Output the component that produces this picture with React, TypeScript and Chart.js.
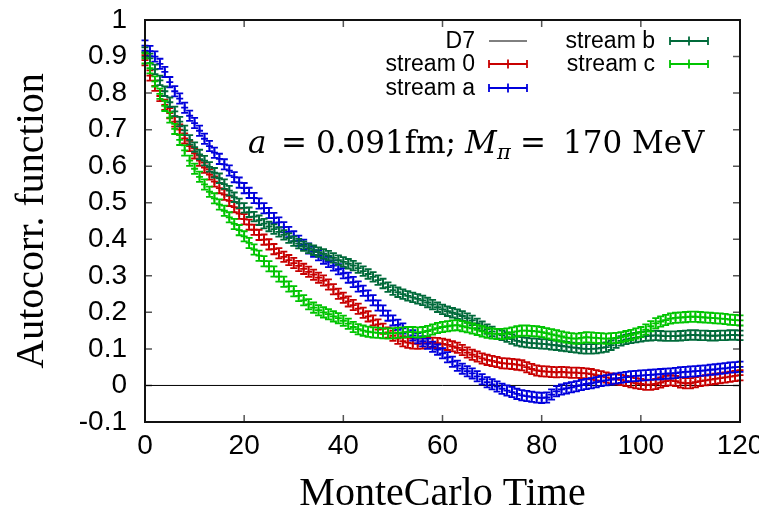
import React, { useEffect, useRef } from "react";
import { Chart, registerables } from "chart.js";

Chart.register(...registerables);

// ---------- data ----------
const mcTime = [
  0, 1, 2, 3, 4, 5, 6, 7, 8, 9, 10, 11, 12, 13, 14, 15, 16, 17, 18, 19, 20,
  21, 22, 23, 24, 25, 26, 27, 28, 29, 30, 31, 32, 33, 34, 35, 36, 37, 38, 39, 40,
  41, 42, 43, 44, 45, 46, 47, 48, 49, 50, 51, 52, 53, 54, 55, 56, 57, 58, 59, 60,
  61, 62, 63, 64, 65, 66, 67, 68, 69, 70, 71, 72, 73, 74, 75, 76, 77, 78, 79, 80,
  81, 82, 83, 84, 85, 86, 87, 88, 89, 90, 91, 92, 93, 94, 95, 96, 97, 98, 99, 100,
  101, 102, 103, 104, 105, 106, 107, 108, 109, 110, 111, 112, 113, 114, 115, 116, 117, 118, 119, 120,
];

const stream0 = [
  0.890, 0.848, 0.820, 0.792, 0.768, 0.745, 0.722, 0.700, 0.676, 0.655,
  0.635, 0.615, 0.596, 0.577, 0.558, 0.540, 0.522, 0.505, 0.488, 0.470,
  0.455, 0.440, 0.426, 0.412, 0.399, 0.386, 0.373, 0.362, 0.352, 0.343,
  0.335, 0.327, 0.319, 0.311, 0.303, 0.295, 0.287, 0.276, 0.263, 0.251,
  0.240, 0.230, 0.220, 0.210, 0.199, 0.189, 0.178, 0.167, 0.155, 0.145,
  0.136, 0.128, 0.121, 0.117, 0.115, 0.114, 0.115, 0.116, 0.117, 0.116,
  0.114, 0.111, 0.107, 0.103, 0.097, 0.090, 0.084, 0.079, 0.074, 0.070,
  0.067, 0.064, 0.061, 0.060, 0.059, 0.057, 0.055, 0.050, 0.045, 0.041,
  0.039, 0.038, 0.037, 0.036, 0.037, 0.036, 0.035, 0.035, 0.034, 0.033,
  0.031, 0.028, 0.025, 0.022, 0.019, 0.017, 0.015, 0.012, 0.009, 0.006,
  0.004, 0.002, 0.002, 0.004, 0.008, 0.012, 0.014, 0.012, 0.008, 0.006,
  0.006, 0.009, 0.012, 0.014, 0.016, 0.018, 0.020, 0.022, 0.024, 0.026,
  0.028,
];

const streamA = [
  0.930, 0.915, 0.900, 0.880, 0.858, 0.830, 0.805, 0.785, 0.760, 0.738,
  0.718, 0.697, 0.675, 0.655, 0.637, 0.620, 0.605, 0.588, 0.570, 0.555,
  0.540, 0.527, 0.513, 0.498, 0.485, 0.472, 0.458, 0.446, 0.433, 0.420,
  0.408, 0.396, 0.385, 0.375, 0.366, 0.356, 0.347, 0.338, 0.328, 0.318,
  0.307, 0.295, 0.283, 0.271, 0.259, 0.246, 0.233, 0.219, 0.205, 0.191,
  0.178, 0.166, 0.156, 0.146, 0.137, 0.129, 0.121, 0.114, 0.106, 0.098,
  0.088, 0.077, 0.065, 0.054, 0.046, 0.039, 0.033, 0.025, 0.017, 0.009,
  0.003, -0.003, -0.009, -0.014, -0.018, -0.023, -0.027, -0.029, -0.031, -0.033,
  -0.034, -0.033, -0.025, -0.016, -0.011, -0.008, -0.005, -0.002, 0.001, 0.004,
  0.006, 0.009, 0.012, 0.014, 0.016, 0.019, 0.021, 0.023, 0.025, 0.026,
  0.027, 0.028, 0.029, 0.030, 0.031, 0.032, 0.033, 0.034, 0.036, 0.037,
  0.038, 0.039, 0.040, 0.041, 0.043, 0.044, 0.046, 0.047, 0.049, 0.050,
  0.051,
];

const streamB = [
  0.912, 0.895, 0.865, 0.835, 0.805, 0.775, 0.750, 0.722, 0.698, 0.672,
  0.652, 0.632, 0.615, 0.598, 0.582, 0.567, 0.551, 0.533, 0.515, 0.498,
  0.486, 0.474, 0.462, 0.452, 0.443, 0.435, 0.428, 0.420, 0.412, 0.403,
  0.395, 0.388, 0.381, 0.375, 0.370, 0.365, 0.360, 0.355, 0.349, 0.343,
  0.338, 0.333, 0.328, 0.321, 0.313, 0.305, 0.297, 0.288, 0.279, 0.269,
  0.261, 0.255, 0.250, 0.245, 0.241, 0.237, 0.233, 0.227, 0.221, 0.214,
  0.208, 0.203, 0.199, 0.195, 0.190, 0.184, 0.178, 0.170, 0.162, 0.154,
  0.148, 0.142, 0.137, 0.132, 0.127, 0.122, 0.119, 0.117, 0.116, 0.115,
  0.114, 0.113, 0.111, 0.110, 0.108, 0.106, 0.104, 0.103, 0.101, 0.100,
  0.100, 0.101, 0.103, 0.105, 0.110, 0.116, 0.122, 0.126, 0.129, 0.131,
  0.133, 0.135, 0.136, 0.137, 0.136, 0.135, 0.135, 0.135, 0.136, 0.137,
  0.138, 0.138, 0.137, 0.137, 0.136, 0.136, 0.137, 0.137, 0.138, 0.138,
  0.137,
];

const streamC = [
  0.895, 0.868, 0.832, 0.798, 0.765, 0.733, 0.702, 0.672, 0.643, 0.615,
  0.593, 0.571, 0.550, 0.530, 0.512, 0.495, 0.478, 0.460, 0.442, 0.425,
  0.408, 0.390, 0.372, 0.355, 0.340, 0.326, 0.312, 0.298, 0.284, 0.271,
  0.258, 0.245, 0.233, 0.222, 0.213, 0.206, 0.200, 0.195, 0.189, 0.184,
  0.177, 0.169, 0.160, 0.154, 0.150, 0.147, 0.145, 0.144, 0.143, 0.142,
  0.143, 0.144, 0.145, 0.146, 0.146, 0.145, 0.146, 0.149, 0.153, 0.157,
  0.160, 0.162, 0.164, 0.165, 0.162, 0.159, 0.156, 0.152, 0.148, 0.144,
  0.142, 0.141, 0.141, 0.142, 0.145, 0.148, 0.150, 0.150, 0.149, 0.148,
  0.146, 0.143, 0.140, 0.137, 0.134, 0.131, 0.129, 0.128, 0.130, 0.132,
  0.131, 0.130, 0.129, 0.128, 0.129, 0.130, 0.132, 0.135, 0.138, 0.142,
  0.146, 0.153, 0.162, 0.170, 0.175, 0.179, 0.183, 0.185, 0.186, 0.187,
  0.188, 0.188, 0.187, 0.186, 0.185, 0.184, 0.183, 0.182, 0.180, 0.179,
  0.178,
];

const err0 = 0.014;
const errA = 0.014;
const errB = 0.013;
const errC = 0.014;

const d7X = [0, 120];
const d7Y = [0, 0];

const xTicks = [0, 20, 40, 60, 80, 100, 120];
const xTickLabels = ["0", "20", "40", "60", "80", "100", "120"];
const yTicks = [-0.1, 0, 0.1, 0.2, 0.3, 0.4, 0.5, 0.6, 0.7, 0.8, 0.9, 1];
const yTickLabels = ["-0.1", "0", "0.1", "0.2", "0.3", "0.4", "0.5", "0.6", "0.7", "0.8", "0.9", "1"];

const seriesLabels = ["D7", "stream 0", "stream a", "stream b", "stream c"];
const seriesColors = ["#000000", "#c80000", "#0000dc", "#006a3a", "#00c400"];

const xTitle = "MonteCarlo Time";
const yTitle = "Autocorr. function";

// ---------- plugins ----------
const CAP = 3.5;

const errorBarPlugin = {
  id: "errbars",
  afterDatasetDraw(chart: any, args: any) {
    const ds = chart.data.datasets[args.index];
    if (!ds.errHalf) return;
    const ctx = chart.ctx;
    const xs = chart.scales.x;
    const ys = chart.scales.y;
    ctx.save();
    ctx.strokeStyle = ds.borderColor;
    ctx.lineWidth = 1.8;
    ctx.beginPath();
    ds.data.forEach((p: any) => {
      const px = xs.getPixelForValue(p.x);
      const top = ys.getPixelForValue(p.y + ds.errHalf);
      const bot = ys.getPixelForValue(p.y - ds.errHalf);
      ctx.moveTo(px, top);
      ctx.lineTo(px, bot);
      ctx.moveTo(px - CAP, top);
      ctx.lineTo(px + CAP, top);
      ctx.moveTo(px - CAP, bot);
      ctx.lineTo(px + CAP, bot);
    });
    ctx.stroke();
    ctx.restore();
  },
};

function drawLegendSample(ctx: any, x0: number, x1: number, y: number, color: string, bars: boolean) {
  ctx.save();
  ctx.strokeStyle = color;
  ctx.lineWidth = bars ? 1.8 : 1;
  ctx.beginPath();
  ctx.moveTo(x0, y);
  ctx.lineTo(x1, y);
  if (bars) {
    const mid = (x0 + x1) / 2;
    ctx.moveTo(x0, y - 4);
    ctx.lineTo(x0, y + 4);
    ctx.moveTo(x1, y - 4);
    ctx.lineTo(x1, y + 4);
    ctx.moveTo(mid, y - 4.5);
    ctx.lineTo(mid, y + 4.5);
  }
  ctx.stroke();
  ctx.restore();
}

const framePlugin = {
  id: "frame",
  beforeDatasetsDraw(chart: any) {
    const ctx = chart.ctx;
    const { left, right, top, bottom } = chart.chartArea;
    const xs = chart.scales.x;
    const ys = chart.scales.y;
    ctx.save();
    ctx.strokeStyle = "#555";
    ctx.lineWidth = 1.5;
    ctx.beginPath();
    yTicks.forEach((v) => {
      const py = ys.getPixelForValue(v);
      ctx.moveTo(left, py);
      ctx.lineTo(left + 7, py);
      ctx.moveTo(right, py);
      ctx.lineTo(right - 7, py);
    });
    xTicks.forEach((v) => {
      const px = xs.getPixelForValue(v);
      ctx.moveTo(px, bottom);
      ctx.lineTo(px, bottom - 7);
      ctx.moveTo(px, top);
      ctx.lineTo(px, top + 7);
    });
    ctx.stroke();
    ctx.restore();
  },
  afterDraw(chart: any) {
    const ctx = chart.ctx;
    const { left, right, top, bottom } = chart.chartArea;
    ctx.save();
    // border
    ctx.strokeStyle = "#111";
    ctx.lineWidth = 2;
    ctx.strokeRect(left, top, right - left, bottom - top);

    // axis titles
    ctx.fillStyle = "#000";
    ctx.font = "40px 'Liberation Serif'";
    ctx.textAlign = "center";
    ctx.textBaseline = "alphabetic";
    ctx.fillText(xTitle, (left + right) / 2, 505);
    ctx.save();
    ctx.translate(43, (top + bottom) / 2);
    ctx.rotate(-Math.PI / 2);
    ctx.fillText(yTitle, 0, 0);
    ctx.restore();

    // legend
    ctx.font = "23px 'Liberation Sans'";
    ctx.textAlign = "right";
    ctx.textBaseline = "middle";
    const rows = [41, 64, 88];
    const entries = [
      { i: 0, col: 0, row: 0 },
      { i: 1, col: 0, row: 1 },
      { i: 2, col: 0, row: 2 },
      { i: 3, col: 1, row: 0 },
      { i: 4, col: 1, row: 1 },
    ];
    const cols = [
      { textRight: 475, s0: 489, s1: 527 },
      { textRight: 655, s0: 670, s1: 708 },
    ];
    entries.forEach((e) => {
      const c = cols[e.col];
      const y = rows[e.row];
      ctx.fillStyle = "#000";
      ctx.fillText(seriesLabels[e.i], c.textRight, y + 1);
      drawLegendSample(ctx, c.s0, c.s1, y, seriesColors[e.i], e.i !== 0);
    });

    // annotation
    const base = 153;
    ctx.textAlign = "left";
    ctx.textBaseline = "alphabetic";
    ctx.fillStyle = "#000";
    ctx.font = "italic 31px 'DejaVu Serif'";
    ctx.fillText("a", 248, base);
    ctx.font = "31px 'DejaVu Serif'";
    ctx.fillText("=", 281, base);
    ctx.fillText("0.091fm;", 316, base);
    ctx.font = "italic 31px 'DejaVu Serif'";
    ctx.fillText("M", 465, base);
    ctx.font = "italic 21px 'DejaVu Serif'";
    ctx.fillText("π", 497, base + 6);
    ctx.font = "31px 'DejaVu Serif'";
    ctx.fillText("=", 520, base);
    ctx.fillText("170 MeV", 563, base);
    ctx.restore();
  },
};

// ---------- component ----------
export default function App() {
  const canvasRef = useRef<HTMLCanvasElement | null>(null);

  useEffect(() => {
    document.body.style.margin = "0";
    document.body.style.overflow = "hidden";
    const canvas = canvasRef.current;
    if (!canvas) return;

    const makePts = (vals: number[]) => mcTime.map((t, i) => ({ x: t, y: vals[i] }));

    const streamDs = (label: string, color: string, vals: number[], err: number, order: number) => ({
      label,
      data: makePts(vals),
      borderColor: color,
      backgroundColor: color,
      pointStyle: "cross",
      pointRadius: 3.5,
      pointBorderWidth: 1.8,
      borderWidth: 1.8,
      showLine: false,
      clip: false,
      order,
      errHalf: err,
    });

    const chart = new Chart(canvas, {
      type: "scatter",
      data: {
        datasets: [
          {
            label: seriesLabels[0],
            data: d7X.map((x, i) => ({ x, y: d7Y[i] })),
            borderColor: seriesColors[0],
            borderWidth: 1,
            pointRadius: 0,
            showLine: true,
            order: 5,
          } as any,
          streamDs(seriesLabels[1], seriesColors[1], stream0, err0, 4),
          streamDs(seriesLabels[2], seriesColors[2], streamA, errA, 3),
          streamDs(seriesLabels[3], seriesColors[3], streamB, errB, 2),
          streamDs(seriesLabels[4], seriesColors[4], streamC, errC, 1),
        ],
      },
      options: {
        responsive: false,
        animation: false,
        events: [],
        layout: { padding: { top: 20, right: 19, left: 0, bottom: 0 } },
        plugins: {
          legend: { display: false },
          tooltip: { enabled: false },
        },
        scales: {
          x: {
            type: "linear",
            min: 0,
            max: 120,
            grid: { display: false, drawTicks: false },
            border: { display: false },
            ticks: {
              color: "#000",
              font: { family: "'Liberation Sans'", size: 28 },
              padding: 7,
              autoSkip: false,
              maxRotation: 0,
              callback: (_v: any, i: number) => xTickLabels[i],
            },
            afterBuildTicks: (s: any) => {
              s.ticks = xTicks.map((v) => ({ value: v }));
            },
            afterFit: (s: any) => {
              s.height = 90;
              s.paddingLeft = 0;
              s.paddingRight = 0;
            },
          },
          y: {
            type: "linear",
            min: -0.1,
            max: 1,
            grid: { display: false, drawTicks: false },
            border: { display: false },
            ticks: {
              color: "#000",
              font: { family: "'Liberation Sans'", size: 28 },
              padding: 18,
              autoSkip: false,
              callback: (_v: any, i: number) => yTickLabels[i],
            },
            afterBuildTicks: (s: any) => {
              s.ticks = yTicks.map((v) => ({ value: v }));
            },
            afterFit: (s: any) => {
              s.width = 145;
              s.paddingTop = 0;
              s.paddingBottom = 0;
            },
          },
        },
      } as any,
      plugins: [errorBarPlugin, framePlugin],
    });

    return () => chart.destroy();
  }, []);

  return (
    <div style={{ width: 759, height: 512, background: "#fff" }}>
      <canvas ref={canvasRef} width={759} height={512} style={{ display: "block" }} />
    </div>
  );
}
